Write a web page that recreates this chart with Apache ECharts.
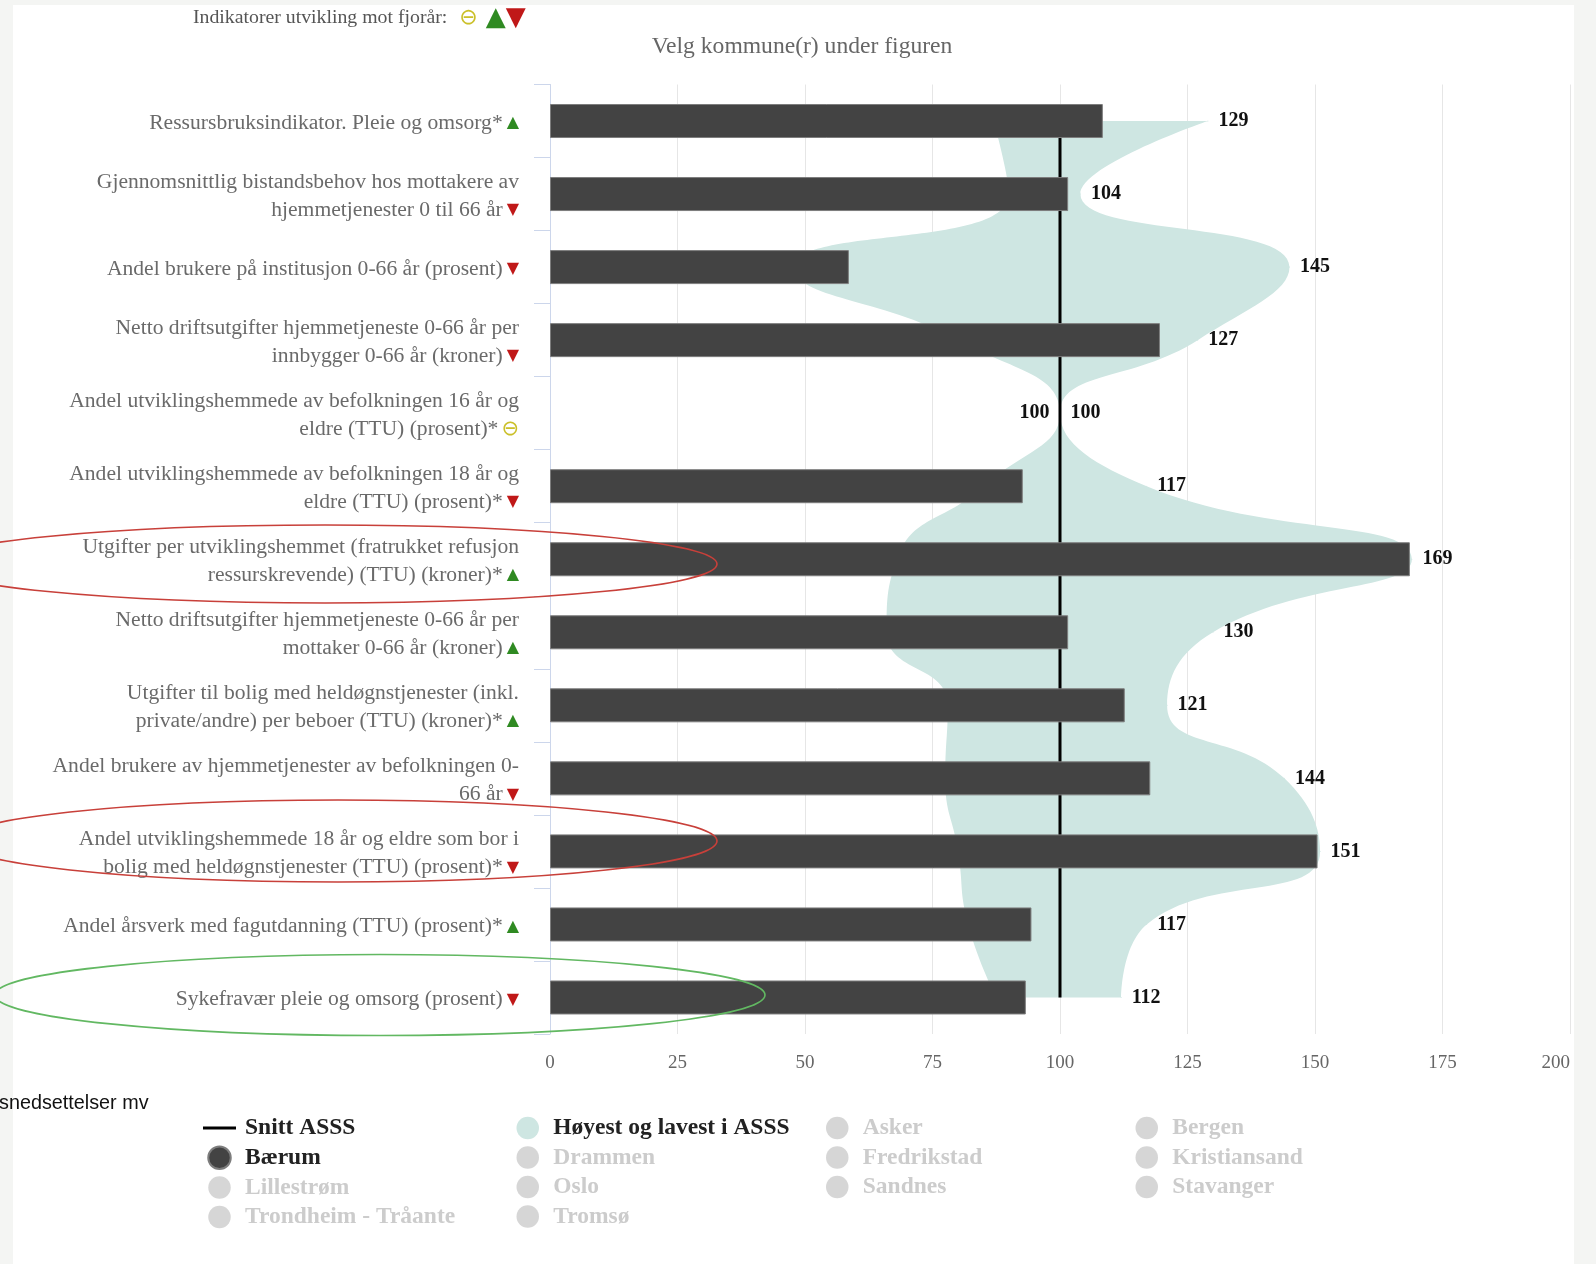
<!DOCTYPE html>
<html>
<head>
<meta charset="utf-8">
<script src="https://cdn.jsdelivr.net/npm/echarts@6/dist/echarts.min.js"></script>
<style>
html,body{margin:0;padding:0;background:#f4f5f3;}
#c{width:1596px;height:1264px;}
</style>
</head>
<body>
<div id="c"></div>
<script>
// ---------- DATA ----------
const categories = [
  'Ressursbruksindikator. Pleie og omsorg*',
  'Gjennomsnittlig bistandsbehov hos mottakere av\nhjemmetjenester 0 til 66 år',
  'Andel brukere på institusjon 0-66 år (prosent)',
  'Netto driftsutgifter hjemmetjeneste 0-66 år per\ninnbygger 0-66 år (kroner)',
  'Andel utviklingshemmede av befolkningen 16 år og\neldre (TTU) (prosent)*',
  'Andel utviklingshemmede av befolkningen 18 år og\neldre (TTU) (prosent)*',
  'Utgifter per utviklingshemmet (fratrukket refusjon\nressurskrevende) (TTU) (kroner)*',
  'Netto driftsutgifter hjemmetjeneste 0-66 år per\nmottaker 0-66 år (kroner)',
  'Utgifter til bolig med heldøgnstjenester (inkl.\nprivate/andre) per beboer (TTU) (kroner)*',
  'Andel brukere av hjemmetjenester av befolkningen 0-\n66 år',
  'Andel utviklingshemmede 18 år og eldre som bor i\nbolig med heldøgnstjenester (TTU) (prosent)*',
  'Andel årsverk med fagutdanning (TTU) (prosent)*',
  'Sykefravær pleie og omsorg (prosent)'
];
const trends = ['up','down','down','down','flat','down','up','up','up','down','down','up','down'];
const baerum = [108.4, 101.6, 58.6, 119.6, null, 92.7, 168.6, 101.6, 112.7, 117.7, 150.5, 94.4, 93.3];
const snittASSS = [100, 100, 100, 100, 100, 100, 100, 100, 100, 100, 100, 100, 100];
const lowestASSS = [87, 90, 48, 80, 100, 85, 68, 66, 78, 77.5, 80, 82, 87.5];
const highestASSS = [129, 104, 145, 127, 100, 117, 169, 130, 121, 144, 151, 117, 112];
const xMin = 0, xMax = 200, xStep = 25;
const legendCol1 = ['Snitt ASSS', 'Bærum', 'Lillestrøm', 'Trondheim - Tråante'];
const legendCol2 = ['Høyest og lavest i ASSS', 'Drammen', 'Oslo', 'Tromsø'];
const legendCol3 = ['Asker', 'Fredrikstad', 'Sandnes'];
const legendCol4 = ['Bergen', 'Kristiansand', 'Stavanger'];
const activeNames = ['Snitt ASSS', 'Bærum', 'Høyest og lavest i ASSS'];
const headerText = 'Indikatorer utvikling mot fjorår:';
const titleText = 'Velg kommune(r) under figuren';
const sideText = 'snedsettelser mv';

// ---------- STYLES ----------
const SERIF = '"Liberation Serif", "Times New Roman", serif';
const SYM = '"DejaVu Sans", sans-serif';
const trendGlyph = { up: '▲', down: '▼', flat: '⊖' };
const baseColor = '#cee6e2';
const GREEN = '#2f8a22', RED = '#c01818', YELLOW = '#cbc02a';

const diffASSS = highestASSS.map((h, i) => h - lowestASSS[i]);

const chart = echarts.init(document.getElementById('c'), null, { renderer: 'canvas' });

function yLabel(value, index) {
  const lines = value.split('\n');
  const tr = trends[index];
  return lines.map((l, i) => {
    let s = '{t|' + l + '}';
    if (i === lines.length - 1) s += '{' + tr + '|' + trendGlyph[tr] + '}';
    return s;
  }).join('\n');
}

function makeLegend(names, left) {
  const selected = {};
  names.forEach(n => { if (activeNames.indexOf(n) < 0) selected[n] = false; });
  return {
    orient: 'vertical',
    left: left,
    top: 1116,
    padding: 0,
    itemGap: 5.5,
    itemWidth: 33,
    itemHeight: 22.5,
    symbolKeepAspect: true,
    inactiveColor: '#cccccc',
    selected: selected,
    textStyle: { fontFamily: SERIF, fontSize: 23.5, fontWeight: 'bold', color: '#222', padding: [0, 0, 0, 4] },
    data: names.map(n => n === 'Snitt ASSS'
      ? { name: n, icon: 'path://M0,0L33,0L33,3L0,3Z' }
      : { name: n, icon: 'circle' })
  };
}

const hiddenSeries = legendCol1.concat(legendCol2, legendCol3, legendCol4)
  .filter(n => activeNames.indexOf(n) < 0)
  .map(n => ({ name: n, type: 'scatter', data: [], itemStyle: { color: '#cccccc' } }));

const option = {
  backgroundColor: '#f4f5f3',
  animation: false,
  grid: { left: 550, right: 26, top: 84.5, bottom: 230, containLabel: false },
  xAxis: {
    type: 'value',
    min: xMin, max: xMax, interval: xStep,
    axisLine: { show: false },
    axisTick: { show: false },
    splitLine: { show: true, lineStyle: { color: '#e6e6e6', width: 1 } },
    axisLabel: { color: '#666', fontFamily: SERIF, fontSize: 19, margin: 20, alignMaxLabel: 'right' }
  },
  yAxis: {
    type: 'category',
    inverse: true,
    data: categories,
    axisLine: { show: true, lineStyle: { color: '#ccd6eb', width: 1 } },
    axisTick: { show: true, length: 16, interval: 0, lineStyle: { color: '#ccd6eb' } },
    splitLine: { show: false },
    axisLabel: {
      interval: 0,
      margin: 31,
      padding: [4, 0, 0, 0],
      formatter: yLabel,
      rich: {
        t: { fontFamily: SERIF, fontSize: 21.6, color: '#6a6a6a', align: 'right', lineHeight: 28 },
        up: { fontFamily: SYM, fontSize: 16, color: GREEN, align: 'right', padding: [0, 0, 0, 4], lineHeight: 28 },
        down: { fontFamily: SYM, fontSize: 16, color: RED, align: 'right', padding: [0, 0, 0, 4], lineHeight: 28 },
        flat: { fontFamily: SYM, fontSize: 21, color: YELLOW, align: 'right', padding: [0, 0, 0, 3], lineHeight: 28 }
      }
    }
  },
  legend: [
    makeLegend(legendCol1, 203),
    makeLegend(legendCol2, 516.5),
    makeLegend(legendCol3, 826),
    makeLegend(legendCol4, 1135.5)
  ],
  graphic: [
    { type: 'rect', z: -10, silent: true, shape: { x: 13, y: 5, width: 1561, height: 1259 }, style: { fill: '#ffffff' } },
    {
      type: 'text', z: 50, silent: true, x: 193, y: 18,
      style: {
        text: '{a|' + headerText + '}{f|⊖}{u|▲}{d|▼}',
        verticalAlign: 'middle',
        rich: {
          a: { fontFamily: SERIF, fontSize: 19.8, fill: '#555' },
          f: { fontFamily: SYM, fontSize: 22, fill: YELLOW, padding: [0, 8, 0, 12] },
          u: { fontFamily: SYM, fontSize: 26, fill: GREEN },
          d: { fontFamily: SYM, fontSize: 26, fill: RED }
        }
      }
    },
    {
      type: 'text', z: 50, silent: true, x: 802, y: 47,
      style: { text: titleText, fontFamily: SERIF, fontSize: 23.6, fill: '#666', align: 'center', verticalAlign: 'middle' }
    },
    {
      type: 'text', z: 50, silent: true, x: -1, y: 1104,
      style: { text: sideText, fontFamily: '"Liberation Sans", sans-serif', fontSize: 19.8, fill: '#111', align: 'left', verticalAlign: 'middle' }
    },
    { type: 'ellipse', z: 60, silent: true, shape: { cx: 325, cy: 564, rx: 392, ry: 39 }, style: { fill: null, stroke: '#c8403a', lineWidth: 1.6 } },
    { type: 'ellipse', z: 60, silent: true, shape: { cx: 338, cy: 841, rx: 379, ry: 41 }, style: { fill: null, stroke: '#c8403a', lineWidth: 1.6 } },
    { type: 'ellipse', z: 60, silent: true, shape: { cx: 380, cy: 995, rx: 385, ry: 40.5 }, style: { fill: null, stroke: '#62b862', lineWidth: 1.6 } }
  ],
  series: [
    {
      name: 'lav',
      type: 'line',
      stack: 'range',
      data: lowestASSS,
      smooth: 0.5,
      silent: true,
      z: 1,
      symbol: 'circle',
      symbolSize: 1,
      showSymbol: true,
      itemStyle: { color: baseColor },
      lineStyle: { width: 0, opacity: 0 },
      label: {
        show: true,
        position: 'left',
        distance: 10,
        fontFamily: SERIF, fontSize: 20, fontWeight: 'bold', color: '#111',
        formatter: p => (baerum[p.dataIndex] == null ? String(lowestASSS[p.dataIndex]) : '')
      }
    },
    {
      name: 'Høyest og lavest i ASSS',
      type: 'line',
      stack: 'range',
      data: diffASSS,
      smooth: 0.5,
      silent: true,
      z: 1,
      symbol: 'circle',
      symbolSize: 1,
      showSymbol: true,
      itemStyle: { color: baseColor },
      lineStyle: { width: 0, opacity: 0 },
      areaStyle: { color: baseColor, opacity: 1 },
      label: {
        show: true,
        position: 'right',
        distance: 10,
        fontFamily: SERIF, fontSize: 20, fontWeight: 'bold', color: '#111',
        formatter: p => String(highestASSS[p.dataIndex])
      }
    },
    {
      name: 'Snitt ASSS',
      type: 'line',
      data: snittASSS,
      silent: true,
      z: 2,
      symbol: 'none',
      showSymbol: false,
      itemStyle: { color: '#000' },
      lineStyle: { color: '#000', width: 3 }
    },
    {
      name: 'Bærum',
      type: 'bar',
      data: baerum,
      barWidth: 34,
      silent: true,
      z: 3,
      itemStyle: { color: '#434343', borderColor: '#7d7d7d', borderWidth: 1 }
    }
  ].concat(hiddenSeries)
};

chart.setOption(option);
</script>
</body>
</html>
